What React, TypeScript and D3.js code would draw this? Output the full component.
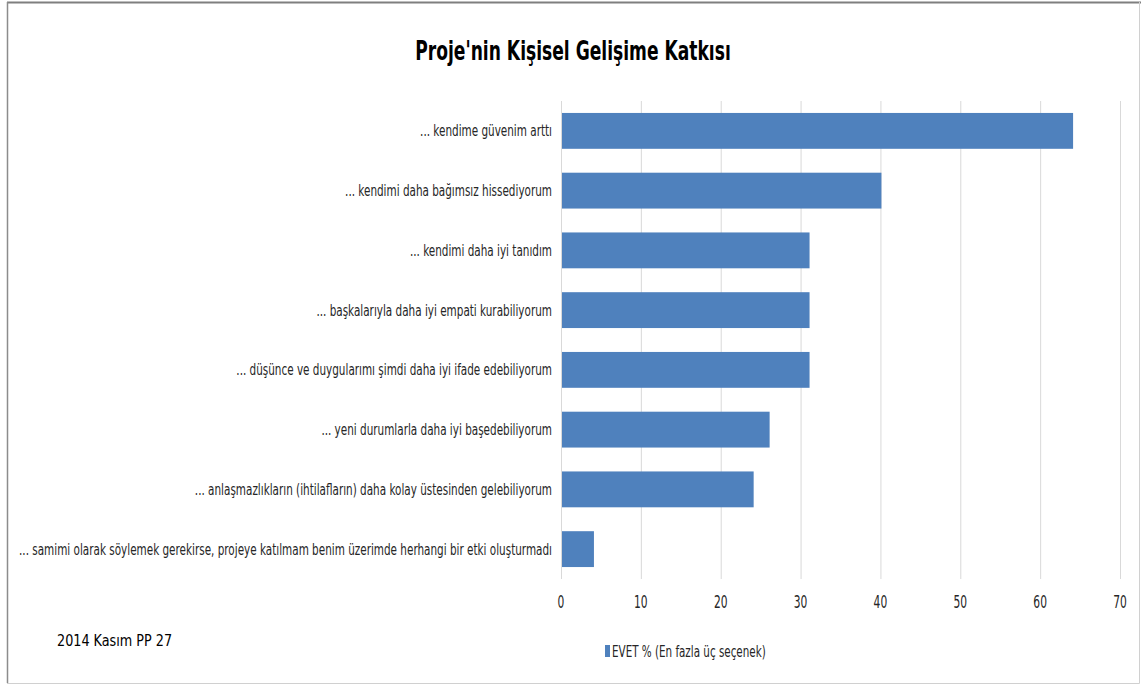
import React, { useEffect, useRef } from "react";
import * as d3 from "d3";

const categories = [
  "... kendime güvenim arttı",
  "... kendimi daha bağımsız hissediyorum",
  "... kendimi daha iyi tanıdım",
  "... başkalarıyla daha iyi empati kurabiliyorum",
  "... düşünce ve duygularımı şimdi daha iyi ifade edebiliyorum",
  "... yeni durumlarla daha iyi başedebiliyorum",
  "... anlaşmazlıkların (ihtilafların) daha kolay üstesinden gelebiliyorum",
  "... samimi olarak söylemek gerekirse, projeye katılmam benim üzerimde herhangi bir etki oluşturmadı",
];
const values = [64, 40, 31, 31, 31, 26, 24, 4];
const xTicks = [0, 10, 20, 30, 40, 50, 60, 70];
const title = "Proje'nin Kişisel Gelişime Katkısı";
const legendLabel = "EVET % (En fazla üç seçenek)";
const footnote = "2014 Kasım PP 27";

const W = 1141;
const H = 685;
const FONT = "'DejaVu Sans Condensed', 'DejaVu Sans', sans-serif";
const BAR = "#4f81bd";
const TXT = "#262626";

export default function App() {
  const ref = useRef<SVGSVGElement>(null);
  useEffect(() => {
    const svg = d3.select(ref.current);
    svg.selectAll("*").remove();
    const left = 561, right = 1120, top = 101, bottom = 579;
    const x = d3.scaleLinear().domain([0, 70]).range([left, right]);
    const y = d3.scaleBand().domain(categories).range([top, bottom]).paddingInner(0.4).paddingOuter(0.2);

    const txt = (g: any, tx: number, ty: number, s: number, size: number, anchor: string, content: string, color = TXT, weight = "normal") =>
      g.append("text")
        .attr("transform", `translate(${tx},${ty}) scale(${s},1)`)
        .attr("dy", "0.35em")
        .attr("text-anchor", anchor)
        .attr("font-family", FONT)
        .attr("font-size", size)
        .attr("font-weight", weight)
        .attr("fill", color)
        .text(content);

    svg.append("rect").attr("x", 0).attr("y", 0).attr("width", W).attr("height", H).attr("fill", "#fff");
    // frame
    svg.append("line").attr("x1", 7).attr("x2", W).attr("y1", 2.5).attr("y2", 2.5).attr("stroke", "#7f7f7f").attr("stroke-width", 2);
    svg.append("line").attr("x1", 7.5).attr("x2", 7.5).attr("y1", 2).attr("y2", 683).attr("stroke", "#8c8c8c").attr("stroke-width", 1.5);
    svg.append("line").attr("x1", 7).attr("x2", 1139.5).attr("y1", 683.5).attr("y2", 683.5).attr("stroke", "#d0d0d0").attr("stroke-width", 1);
    svg.append("line").attr("x1", 1139.5).attr("x2", 1139.5).attr("y1", 2).attr("y2", 683.5).attr("stroke", "#d0d0d0").attr("stroke-width", 1);

    txt(svg, 573, 51, 0.705, 27, "middle", title, "#000", "bold");

    // gridlines
    svg.append("g").selectAll("line").data(xTicks).join("line")
      .attr("x1", d => x(d) + 0.5).attr("x2", d => x(d) + 0.5)
      .attr("y1", top).attr("y2", bottom)
      .attr("stroke", "#d9d9d9").attr("stroke-width", 1);

    svg.append("g").selectAll("rect").data(values).join("rect")
      .attr("x", x(0) + 1).attr("y", (d, i) => y(categories[i])!)
      .attr("width", d => x(d) - x(0)).attr("height", y.bandwidth())
      .attr("fill", BAR);

    const gl = svg.append("g");
    categories.forEach(c => txt(gl, 552, y(c)! + y.bandwidth() / 2, 0.725, 16, "end", c));

    const gt = svg.append("g");
    xTicks.forEach(t => txt(gt, x(t), 602, 0.7, 17, "middle", String(t)));

    svg.append("rect").attr("x", 605).attr("y", 645).attr("width", 5).attr("height", 12).attr("fill", BAR);
    txt(svg, 612, 651, 0.72, 16, "start", legendLabel);

    txt(svg, 57, 640, 0.89, 16, "start", footnote, "#000");
  }, []);
  return (
    <svg ref={ref} width={W} height={H} style={{ position: "absolute", left: 0, top: 0, display: "block" }} />
  );
}
